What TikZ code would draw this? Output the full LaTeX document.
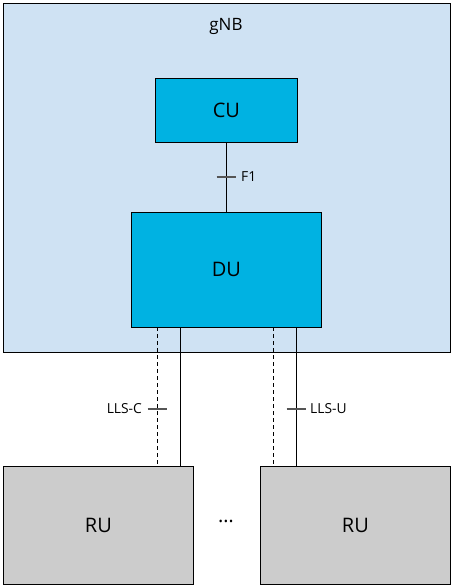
\documentclass[tikz,border=0pt]{standalone}
\usepackage{fontspec}
\setmainfont{Open Sans}
\definecolor{gnbfill}{HTML}{CFE2F3}
\definecolor{dufill}{HTML}{00B2E2}
\definecolor{rufill}{HTML}{CCCCCC}
\definecolor{tickc}{HTML}{555555}
\begin{document}
\begin{tikzpicture}[x=1pt,y=-1pt,
  box/.style={draw=black,line width=0.9pt,anchor=north west,inner sep=0pt},
  tickmark/.style={draw=tickc,line width=1.2pt},
  lbl/.style={font=\fontsize{13.8}{16}\selectfont,inner sep=0pt},
  big/.style={font=\fontsize{20}{23}\selectfont}]
\useasboundingbox (0,0) rectangle (455,588);
\node[box,fill=gnbfill,minimum width=447pt,minimum height=349pt] (gnb) at (3,3) {};
\node[font=\fontsize{17}{20}\selectfont] (gnbl) at (226,26) {gNB};
\node[box,fill=dufill,minimum width=142pt,minimum height=64pt,big] (cu) at (155,78) {};
\node[big] at (cu.center) {CU};
\node[box,fill=dufill,minimum width=190pt,minimum height=115pt] (du) at (131,212) {};
\node[big] at (du.center) {DU};
\node[box,fill=rufill,minimum width=190pt,minimum height=118pt] (rul) at (3,466) {};
\node[big] at (rul.center) {RU};
\node[box,fill=rufill,minimum width=190pt,minimum height=118pt] (rur) at (260,466) {};
\node[big] at (rur.center) {RU};
\node[big] (dots) at (226,521) {\dots};
% F1
\draw[line width=0.9pt] (cu.south) -- (du.north);
\coordinate (f1) at (226,177);
\draw[tickmark] ([xshift=-9.5pt]f1) -- ([xshift=9.5pt]f1);
\node[lbl,anchor=west] (f1l) at (241,177) {F1};
% LLS links
\coordinate (dcl) at (157,327); \coordinate (rcl) at (157,466);
\coordinate (dul) at (180,327); \coordinate (rul2) at (180,466);
\coordinate (dcr) at (273,327); \coordinate (rcr) at (273,466);
\coordinate (dur) at (296,327); \coordinate (rur2) at (296,466);
\draw[line width=0.9pt,dash pattern=on 4pt off 3pt] (dcl) -- (rcl);
\draw[line width=0.9pt] (dul) -- (rul2);
\draw[line width=0.9pt,dash pattern=on 4pt off 3pt] (dcr) -- (rcr);
\draw[line width=0.9pt] (dur) -- (rur2);
\coordinate (llsc) at (157,409);
\draw[tickmark] ([xshift=-9.5pt]llsc) -- ([xshift=9.5pt]llsc);
\node[lbl,anchor=east] (llscl) at (142,409) {LLS-C};
\coordinate (llsu) at (296,409);
\draw[tickmark] ([xshift=-9.5pt]llsu) -- ([xshift=9.5pt]llsu);
\node[lbl,anchor=west] (llsul) at (310,409) {LLS-U};
\end{tikzpicture}
\end{document}
